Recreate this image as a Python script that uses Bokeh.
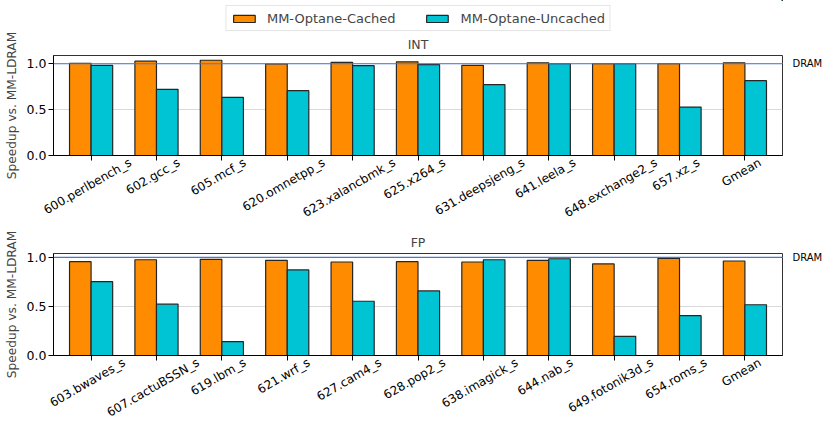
import math
from bokeh.plotting import figure
from bokeh.layouts import column
from bokeh.models import (ColumnDataSource, Range1d, FixedTicker, NumeralTickFormatter,
                          CustomJSTickFormatter, Span, Title, Legend, LegendItem, LinearAxis)
from bokeh.transform import dodge
from bokeh.embed import file_html
from bokeh.resources import INLINE

# ---------------- data ----------------
int_benchmarks = ["600.perlbench_s", "602.gcc_s", "605.mcf_s", "620.omnetpp_s", "623.xalancbmk_s",
                  "625.x264_s", "631.deepsjeng_s", "641.leela_s", "648.exchange2_s", "657.xz_s", "Gmean"]
int_cached = [1.005, 1.028, 1.038, 0.997, 1.015, 1.021, 0.983, 1.01, 1.0, 1.0, 1.01]
int_uncached = [0.983, 0.721, 0.633, 0.706, 0.979, 0.99, 0.773, 1.0, 1.0, 0.528, 0.815]

fp_benchmarks = ["603.bwaves_s", "607.cactuBSSN_s", "619.lbm_s", "621.wrf_s", "627.cam4_s",
                 "628.pop2_s", "638.imagick_s", "644.nab_s", "649.fotonik3d_s", "654.roms_s", "Gmean"]
fp_cached = [0.956, 0.976, 0.98, 0.97, 0.953, 0.956, 0.953, 0.97, 0.933, 0.99, 0.963]
fp_uncached = [0.752, 0.523, 0.141, 0.872, 0.553, 0.658, 0.976, 0.986, 0.195, 0.406, 0.517]

series_names = ["MM-Optane-Cached", "MM-Optane-Uncached"]
y_ticks = [0.0, 0.5, 1.0]
dram_level = 1.0

# ---------------- style ----------------
FONT = "DejaVu Sans"
C_CACHED = "#ff8c00"
C_UNCACHED = "#00c4d4"
EDGE = "#262626"
W = 831
BORDER_L, BORDER_R = 53, 49
X_PAD = 0.575
BAR_W = 0.33
TICK_FS = 12

_em = {'.': 0.318, '_': 0.5, 'a': .613, 'b': .635, 'c': .550, 'd': .635, 'e': .615, 'f': .352,
       'g': .635, 'h': .634, 'i': .278, 'j': .278, 'k': .579, 'l': .278, 'm': .974, 'n': .634,
       'o': .612, 'p': .635, 'q': .635, 'r': .411, 's': .521, 't': .392, 'u': .634, 'v': .592,
       'w': .818, 'x': .592, 'y': .592, 'z': .525, 'B': .686, 'S': .635, 'N': .748, 'G': .775}


def text_width(s, fs):
    return sum(0.636 if ch.isdigit() else _em.get(ch, 0.6) for ch in s) * fs


def bar_style(color):
    return dict(fill_color=color, line_color=EDGE, line_width=1.2)


def make_panel(src, names, title, top_border, bottom_border, height):
    n = len(names)
    ymax = 1.05 * max(max(src.data["cached"]), max(src.data["uncached"]))
    p = figure(width=W, height=height, output_backend="svg", toolbar_location=None,
               x_range=Range1d(-X_PAD, n - 1 + X_PAD), y_range=Range1d(0, ymax),
               min_border_left=BORDER_L, min_border_right=BORDER_R,
               min_border_top=top_border, min_border_bottom=bottom_border)
    p.background_fill_color = "white"
    p.border_fill_color = "white"
    p.outline_line_color = "#333333"
    p.outline_line_width = 1

    p.vbar(x=dodge("idx", -BAR_W / 2, range=p.x_range), top="cached", width=BAR_W, source=src,
           **bar_style(C_CACHED))
    p.vbar(x=dodge("idx", BAR_W / 2, range=p.x_range), top="uncached", width=BAR_W, source=src,
           **bar_style(C_UNCACHED))

    p.add_layout(Span(location=dram_level, dimension="width", line_color="#4a74d6", line_width=1.2))

    # y axis
    p.xgrid.visible = False
    p.ygrid.ticker = FixedTicker(ticks=y_ticks)
    p.ygrid.grid_line_color = "#d9d9d9"
    p.yaxis.ticker = FixedTicker(ticks=y_ticks)
    p.yaxis.formatter = NumeralTickFormatter(format="0.0")
    p.yaxis.major_label_text_font = FONT
    p.yaxis.major_label_text_font_size = "12.5px"
    p.yaxis.major_label_text_color = "black"
    p.yaxis.major_label_standoff = 2
    p.yaxis.axis_label = "Speedup vs. MM-LDRAM"
    p.yaxis.axis_label_text_font = FONT
    p.yaxis.axis_label_text_font_size = "12.2px"
    p.yaxis.axis_label_text_font_style = "normal"
    p.yaxis.axis_label_standoff = 5
    p.yaxis.axis_line_color = "black"
    p.yaxis.major_tick_line_color = "black"
    p.yaxis.major_tick_in = 0
    p.yaxis.major_tick_out = 5
    p.yaxis.minor_tick_line_color = None

    # x axis: tick marks (minor ticks) at each category, rotated labels centred under them
    px_per_unit = (W - BORDER_L - BORDER_R) / (n - 1 + 2 * X_PAD)
    c30, s30 = math.cos(math.pi / 6), math.sin(math.pi / 6)
    h = 1.17 * TICK_FS
    label_pos = [i + ((text_width(t, TICK_FS) * c30 - h * s30) / 2) / px_per_unit
                 for i, t in enumerate(names)]
    p.xaxis.ticker = FixedTicker(ticks=label_pos, minor_ticks=list(range(n)))
    p.xaxis.formatter = CustomJSTickFormatter(args=dict(names=names),
                                              code="return names[Math.floor(tick + 1e-6)]")
    p.xaxis.major_label_orientation = math.pi / 6
    p.xaxis.major_label_text_font = FONT
    p.xaxis.major_label_text_font_size = f"{TICK_FS}px"
    p.xaxis.major_label_text_color = "black"
    p.xaxis.major_label_standoff = 1
    p.xaxis.major_tick_line_color = None
    p.xaxis.major_tick_in = 0
    p.xaxis.major_tick_out = 5
    p.xaxis.minor_tick_line_color = "black"
    p.xaxis.minor_tick_in = 0
    p.xaxis.minor_tick_out = 5
    p.xaxis.axis_line_color = "black"

    # DRAM marker on the right
    dram_axis = LinearAxis(ticker=FixedTicker(ticks=[dram_level]),
                           formatter=CustomJSTickFormatter(code="return 'DRAM'"),
                           axis_line_color=None, major_tick_line_color=None,
                           minor_tick_line_color=None, major_tick_in=0, major_tick_out=0,
                           major_label_standoff=10, major_label_text_font=FONT,
                           major_label_text_font_size="10px", major_label_text_color="black")
    p.add_layout(dram_axis, "right")

    p.add_layout(Title(text=title, align="center", text_font=FONT, text_font_size="12.5px",
                       text_font_style="normal", standoff=7, offset=0), "above")
    return p


src_int = ColumnDataSource(dict(idx=list(range(len(int_benchmarks))), cached=int_cached,
                                uncached=int_uncached))
src_fp = ColumnDataSource(dict(idx=list(range(len(fp_benchmarks))), cached=fp_cached,
                               uncached=fp_uncached))

# legend strip on top; its entries reuse the INT series (kept outside this strip's view)
pl = figure(width=W, height=31, output_backend="svg", toolbar_location=None,
            x_axis_location=None, y_axis_location=None,
            x_range=Range1d(-30, -20), y_range=Range1d(-30, -20),
            min_border_left=0, min_border_right=0, min_border_top=0, min_border_bottom=0)
pl.outline_line_color = None
pl.grid.visible = False
pl.background_fill_color = "white"
pl.border_fill_color = "white"
k1 = pl.vbar(x="idx", top="cached", width=BAR_W, source=src_int, **bar_style(C_CACHED))
k2 = pl.vbar(x="idx", top="uncached", width=BAR_W, source=src_int, **bar_style(C_UNCACHED))
legend = Legend(items=[LegendItem(label=series_names[0], renderers=[k1]),
                       LegendItem(label=series_names[1], renderers=[k2])],
                location="bottom_center", orientation="horizontal",
                glyph_width=27, glyph_height=9, label_standoff=10, spacing=28,
                padding=4, label_height=16, margin=0,
                label_text_font=FONT, label_text_font_size="13px",
                border_line_color="#cccccc", border_line_width=1,
                background_fill_color="white", background_fill_alpha=1)
pl.add_layout(legend, "center")

p1 = make_panel(src_int, int_benchmarks, "INT", 22, 72, 198)
p2 = make_panel(src_fp, fp_benchmarks, "FP", 23, 80, 206)
p = column(pl, p1, p2, spacing=0)

open("out.html", "w").write(file_html(p, INLINE))
